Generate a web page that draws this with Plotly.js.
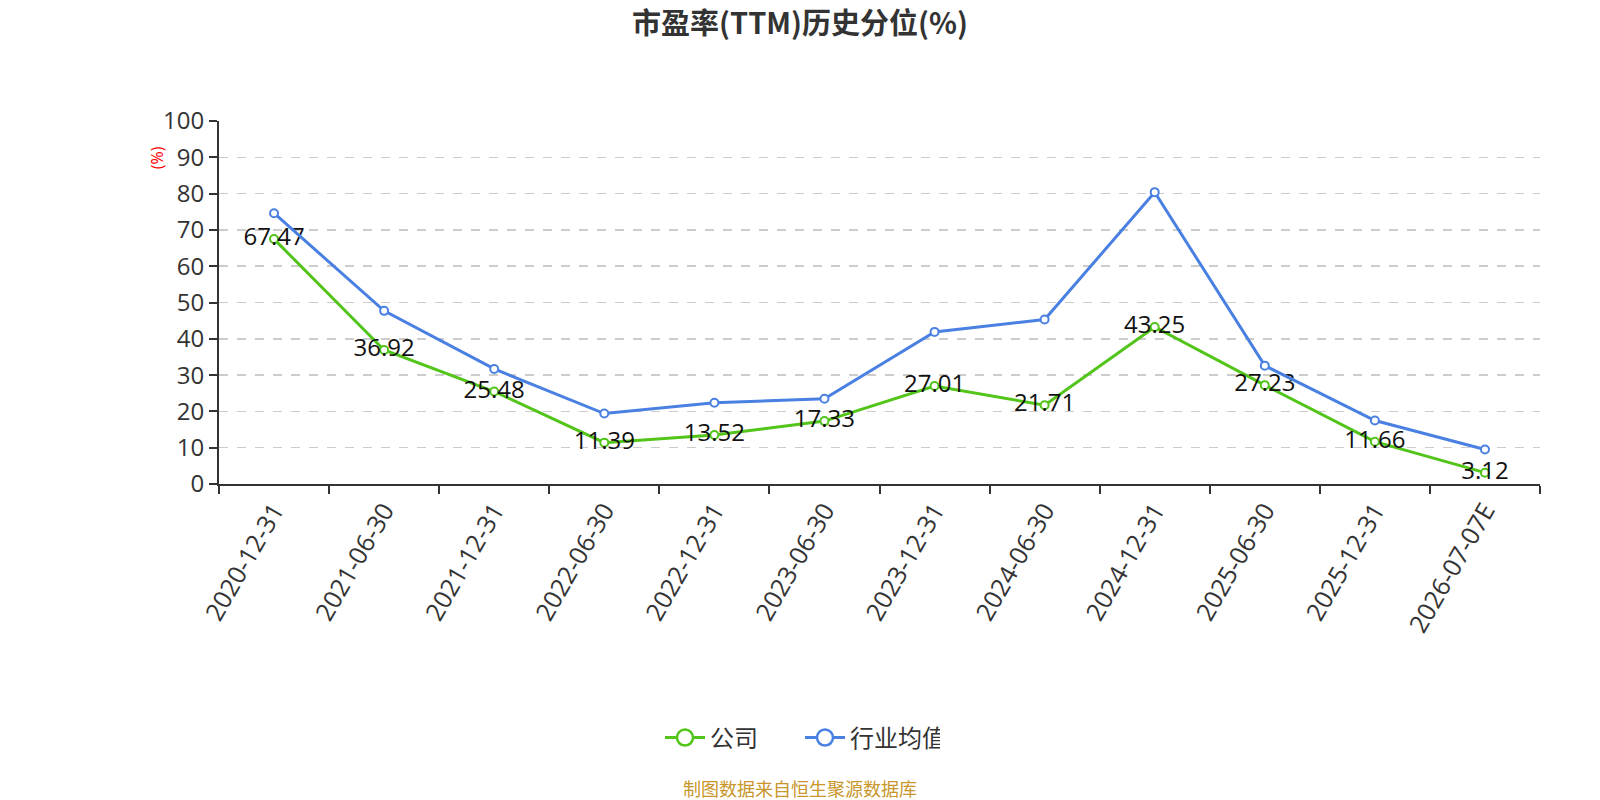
<!DOCTYPE html>
<html>
<head>
<meta charset="utf-8">
<script src="https://cdn.plot.ly/plotly-3.0.1.min.js"></script>
<style>
  html, body { margin: 0; padding: 0; background: #fff; }
  #chart { width: 1600px; height: 800px; }
</style>
</head>
<body>
<div id="chart"></div>
<script>
    // --- DATA ---
    const dates = ['2020-12-31', '2021-06-30', '2021-12-31', '2022-06-30', '2022-12-31', '2023-06-30',
                   '2023-12-31', '2024-06-30', '2024-12-31', '2025-06-30', '2025-12-31', '2026-07-07E'];
    const companyPct = [67.47, 36.92, 25.48, 11.39, 13.52, 17.33, 27.01, 21.71, 43.25, 27.23, 11.66, 3.12];
    const industryPct = [74.6, 47.7, 31.7, 19.4, 22.4, 23.5, 41.9, 45.3, 80.4, 32.6, 17.5, 9.5];
    const yTicks = [0, 10, 20, 30, 40, 50, 60, 70, 80, 90, 100];

    const GREEN = '#52C41A';
    const BLUE = '#4A80E2';
    const FONT = '"Open Sans", "Noto Sans CJK SC", sans-serif';
    const CJK = '"Noto Sans CJK SC", sans-serif';

    // chart traces (legend drawn by the bigger-marker twins below)
    const company = {
        type: 'scatter',
        mode: 'lines+markers+text',
        name: '公司',
        legendgroup: 'c',
        showlegend: false,
        x: dates,
        y: companyPct,
        text: companyPct.map(v => v.toFixed(2)),
        textposition: 'middle center',
        textfont: { family: FONT, size: 24, color: '#111' },
        line: { color: GREEN, width: 3 },
        marker: { symbol: 'circle', size: 8, color: '#fff', line: { color: GREEN, width: 2 } },
        cliponaxis: false
    };

    const industry = {
        type: 'scatter',
        mode: 'lines+markers',
        name: '行业均值',
        legendgroup: 'i',
        showlegend: false,
        x: dates,
        y: industryPct,
        line: { color: BLUE, width: 3 },
        marker: { symbol: 'circle', size: 8, color: '#fff', line: { color: BLUE, width: 2 } },
        cliponaxis: false
    };

    // --- legend-only entries ---
    function legendEntry(name, group, color) {
        return {
            type: 'scatter', mode: 'lines+markers', name: name, legendgroup: group,
            x: [null], y: [null],
            line: { color: color, width: 3 },
            marker: { symbol: 'circle', size: 16, color: '#fff', line: { color: color, width: 2.5 } }
        };
    }

    const layout = {
        width: 1600,
        height: 800,
        margin: { l: 219, r: 60, t: 121, b: 316 },
        paper_bgcolor: '#fff',
        plot_bgcolor: '#fff',
        font: { family: FONT, color: '#333' },
        title: {
            text: '<b>市盈率(TTM)历史分位(%)</b>',
            x: 0.5, xanchor: 'center',
            y: 0.97, yanchor: 'middle',
            font: { family: CJK, size: 29, color: '#333' }
        },
        xaxis: {
            type: 'category',
            tickvals: dates,
            ticktext: dates,
            tickangle: -60,
            tickfont: { size: 25, color: '#333' },
            showgrid: false,
            showline: true, linecolor: '#333', linewidth: 2,
            ticks: 'outside', ticklen: 8, tickcolor: '#333', tickwidth: 2,
            tickson: 'boundaries',
            zeroline: false,
            range: [-0.5, dates.length - 0.5]
        },
        yaxis: {
            range: [0, 100],
            tickvals: yTicks,
            tickfont: { size: 24, color: '#333' },
            showgrid: true, gridcolor: '#cccccc', griddash: 'dash', gridwidth: 1.5,
            showline: true, linecolor: '#333', linewidth: 2,
            ticks: 'outside', ticklen: 8, tickcolor: '#333', tickwidth: 2,
            zeroline: false
        },
        legend: {
            orientation: 'h',
            x: 0.5, xanchor: 'center', xref: 'container',
            y: 0.0775, yanchor: 'middle', yref: 'container',
            font: { family: CJK, size: 24, color: '#333' },
            itemwidth: 40,
            entrywidth: 85, entrywidthmode: 'pixels'
        },
        annotations: [
            {
                text: '(%)', xref: 'paper', yref: 'paper',
                x: -0.047, y: 0.9, xanchor: 'center', yanchor: 'middle',
                textangle: -90, showarrow: false,
                font: { family: FONT, size: 16, color: '#ff0000' }
            },
            {
                text: '制图数据来自恒生聚源数据库', xref: 'paper', yref: 'paper',
                x: 0.5 - (219 - 60) / 2 / 1321, y: -0.838,
                xanchor: 'center', yanchor: 'middle', showarrow: false,
                font: { family: CJK, size: 18, color: '#C8962A' }
            }
        ],
        showlegend: true
    };

    Plotly.newPlot('chart', [company, industry,
        legendEntry('公司', 'c', GREEN), legendEntry('行业均值', 'i', BLUE)],
        layout, { displayModeBar: false, staticPlot: true });
</script>
</body>
</html>
